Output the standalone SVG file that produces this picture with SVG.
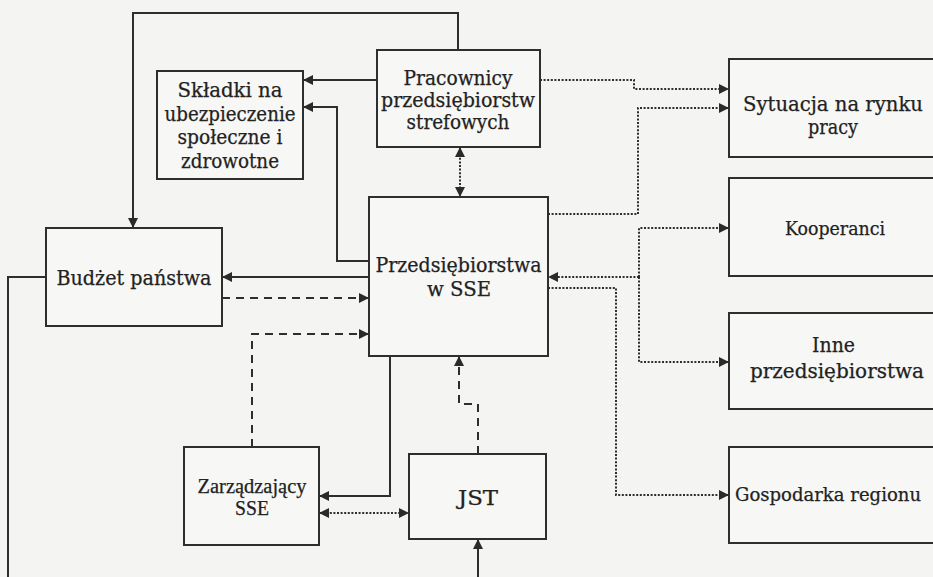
<svg xmlns="http://www.w3.org/2000/svg" width="933" height="577" viewBox="0 0 933 577">
<style>
.bg{fill:#f4f4f2}
.box{fill:#f7f7f5;stroke:#2e2e2e;stroke-width:2}
.t{font-family:"DejaVu Serif",serif;font-size:19.5px;fill:#222;stroke:#222;stroke-width:0.25;text-anchor:middle}
.tt{font-family:"Liberation Serif",serif;font-size:20.5px;fill:#222;stroke:#222;stroke-width:0.25;text-anchor:middle}
.c{fill:none;stroke:#2e2e2e;stroke-width:2}
.dash{stroke-dasharray:8 6}
.dot{stroke-dasharray:2 1.6}
</style>
<defs>
<marker id="ah" viewBox="0 0 10 10" refX="10" refY="5" markerWidth="11" markerHeight="10" markerUnits="userSpaceOnUse" orient="auto-start-reverse">
<path d="M0,0 L10,5 L0,10 z" fill="#2a2a2a"/>
</marker>
</defs>
<rect class="bg" x="0" y="0" width="933" height="577"/>
<g id="connectors">
<path class="c" d="M458,50 V13 H133 V228" marker-end="url(#ah)"/>
<path class="c" d="M377,80 H303" marker-end="url(#ah)"/>
<path class="c" d="M369,261 H337 V107 H303" marker-end="url(#ah)"/>
<path class="c" d="M369,277 H222" marker-end="url(#ah)"/>
<path class="c dash" d="M222,298 H369" marker-end="url(#ah)"/>
<path class="c dash" d="M252,447 V334 H369" marker-end="url(#ah)"/>
<path class="c" d="M390,356 V496 H319" marker-end="url(#ah)"/>
<path class="c dot" d="M319,513 H409" marker-start="url(#ah)" marker-end="url(#ah)"/>
<path class="c dash" d="M478,454 V404 H459 V356" marker-end="url(#ah)"/>
<path class="c" d="M46,277 H8 V577"/>
<path class="c" d="M478,577 V539" marker-end="url(#ah)"/>
<path class="c dot" d="M460,147 V197" marker-start="url(#ah)" marker-end="url(#ah)"/>
<path class="c dot" d="M540,80 H634 V89 H729" marker-end="url(#ah)"/>
<path class="c dot" d="M548,214 H638 V108 H729" marker-end="url(#ah)"/>
<path class="c dot" d="M639,277 V228 H729" marker-end="url(#ah)"/>
<path class="c dot" d="M639,277 V362 H729" marker-end="url(#ah)"/>
<path class="c dot" d="M639,277 H548" marker-end="url(#ah)"/>
<path class="c dot" d="M548,288 H616 V495 H729" marker-end="url(#ah)"/>
</g>
<g id="pracownicy">
<rect class="box" x="377" y="50" width="163" height="97"/>
<text class="t" x="458" y="85" textLength="109" lengthAdjust="spacingAndGlyphs">Pracownicy</text>
<text class="t" x="458" y="107" textLength="154" lengthAdjust="spacingAndGlyphs">przedsiębiorstw</text>
<text class="t" x="458" y="129" textLength="103" lengthAdjust="spacingAndGlyphs">strefowych</text>
</g>
<g id="skladki">
<rect class="box" x="157" y="71" width="146" height="108"/>
<text class="t" x="230" y="97" textLength="105" lengthAdjust="spacingAndGlyphs">Składki na</text>
<text class="t" x="230" y="121" textLength="131" lengthAdjust="spacingAndGlyphs">ubezpieczenie</text>
<text class="t" x="230" y="144" textLength="105" lengthAdjust="spacingAndGlyphs">społeczne i</text>
<text class="t" x="230" y="168" textLength="98" lengthAdjust="spacingAndGlyphs">zdrowotne</text>
</g>
<g id="budzet">
<rect class="box" x="46" y="228" width="176" height="98"/>
<text class="t" x="134" y="285" textLength="155" lengthAdjust="spacingAndGlyphs">Budżet państwa</text>
</g>
<g id="przedsiebiorstwa">
<rect class="box" x="369" y="197" width="179" height="159"/>
<text class="t" x="458.5" y="272" textLength="166" lengthAdjust="spacingAndGlyphs">Przedsiębiorstwa</text>
<text class="t" x="459" y="296" textLength="64" lengthAdjust="spacingAndGlyphs">w SSE</text>
</g>
<g id="zarzadzajacy">
<rect class="box" x="184" y="447" width="135" height="98"/>
<text class="tt" x="252" y="493" textLength="109" lengthAdjust="spacingAndGlyphs">Zarządzający</text>
<text class="tt" x="252" y="515" textLength="34" lengthAdjust="spacingAndGlyphs">SSE</text>
</g>
<g id="jst">
<rect class="box" x="409" y="454" width="137" height="85"/>
<text class="t" x="478" y="505" textLength="40" lengthAdjust="spacingAndGlyphs">JST</text>
</g>
<g id="sytuacja">
<rect class="box" x="729" y="59" width="215" height="98"/>
<text class="t" x="833" y="111" textLength="180" lengthAdjust="spacingAndGlyphs">Sytuacja na rynku</text>
<text class="t" x="833" y="134" textLength="50" lengthAdjust="spacingAndGlyphs">pracy</text>
</g>
<g id="kooperanci">
<rect class="box" x="729" y="178" width="215" height="98"/>
<text class="t" x="835" y="235" style="font-size:18.5px" textLength="100" lengthAdjust="spacingAndGlyphs">Kooperanci</text>
</g>
<g id="inne">
<rect class="box" x="729" y="313" width="215" height="96"/>
<text class="t" x="833.5" y="352" textLength="43" lengthAdjust="spacingAndGlyphs">Inne</text>
<text class="t" x="837" y="378" textLength="174" lengthAdjust="spacingAndGlyphs">przedsiębiorstwa</text>
</g>
<g id="gospodarka">
<rect class="box" x="729" y="447" width="215" height="96"/>
<text class="t" x="828" y="501" style="font-size:18px" textLength="186" lengthAdjust="spacingAndGlyphs">Gospodarka regionu</text>
</g>
</svg>
